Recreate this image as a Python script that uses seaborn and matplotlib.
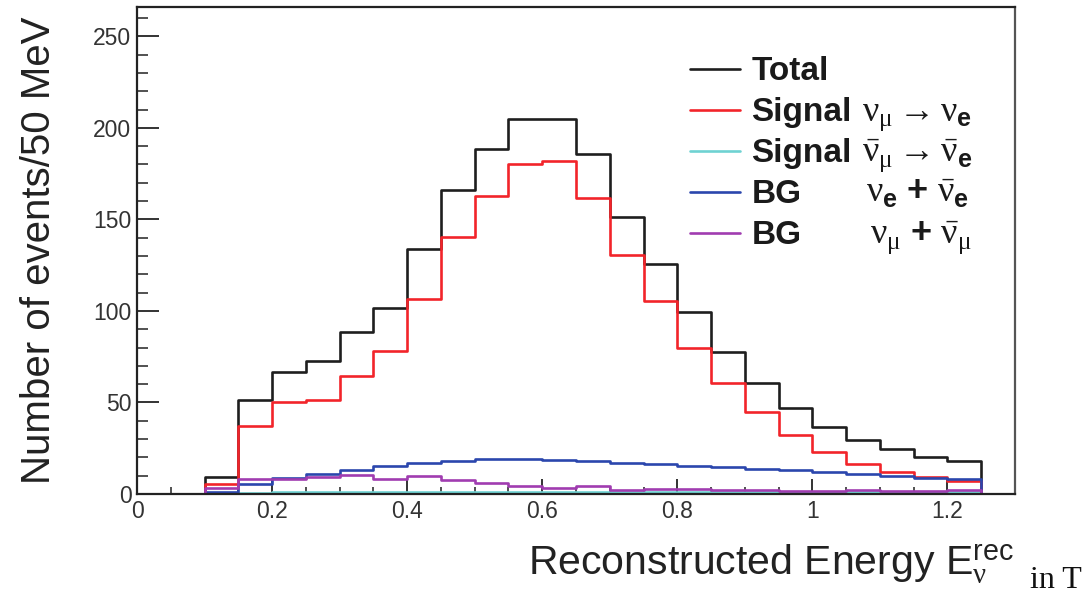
import numpy as np
import pandas as pd
import matplotlib
matplotlib.use("Agg")
import matplotlib.pyplot as plt
import seaborn as sns
from matplotlib.ticker import MultipleLocator, FuncFormatter
from matplotlib.font_manager import FontProperties
from matplotlib.lines import Line2D

# ---- data (events per 50 MeV bin, bins 0.00 .. 1.25) ----
bin_edges = [0.00, 0.05, 0.10, 0.15, 0.20, 0.25, 0.30, 0.35, 0.40, 0.45, 0.50,
             0.55, 0.60, 0.65, 0.70, 0.75, 0.80, 0.85, 0.90, 0.95, 1.00,
             1.05, 1.10, 1.15, 1.20, 1.25]
total = [0, 0, 9.5, 51.4, 66.4, 72.8, 88.4, 101.7, 134.0, 166.3, 188.7,
         205.0, 205.0, 185.8, 151.4, 125.8, 99.4, 77.3, 60.9, 46.9, 36.5,
         29.5, 24.6, 20.2, 18.1]
signal_numu_nue = [0, 0, 5.4, 37.2, 50.0, 51.4, 64.2, 77.9, 106.7, 140.4, 163.0,
                   180.5, 182.0, 161.8, 130.7, 105.6, 80.0, 60.5, 45.0, 32.0, 22.8,
                   16.5, 12.2, 9.5, 7.2]
signal_anti = [0, 0, 0, 0.8, 0.9, 1.0, 1.1, 1.2, 1.2, 1.3, 1.3,
               1.3, 1.3, 1.3, 1.3, 1.2, 1.2, 1.2, 1.1, 1.1, 1.0,
               1.0, 1.0, 0.9, 0.9]
bg_nue = [0, 0, 1.3, 5.3, 8.6, 10.8, 13.1, 15.3, 16.8, 18.2, 19.0,
          19.0, 18.8, 18.2, 17.1, 16.2, 15.3, 14.6, 13.7, 12.9, 11.9,
          10.8, 9.8, 8.9, 8.4]
bg_numu = [0, 0, 3.1, 8.0, 8.0, 9.1, 10.4, 8.0, 9.6, 7.7, 5.8,
           4.6, 3.1, 4.6, 2.2, 2.8, 3.0, 2.0, 2.3, 1.8, 1.8,
           2.0, 1.8, 1.6, 2.0]

legend_words = ["Total", "Signal", "Signal", "BG", "BG"]
legend_formulas = [
    "",
    r"$\nu_{\mu} \rightarrow \nu_{\mathbf{e}}$",
    r"$\bar{\nu}_{\mu} \rightarrow \bar{\nu}_{\mathbf{e}}$",
    r"$\nu_{\mathbf{e}}\ \mathbf{+}\ \bar{\nu}_{\mathbf{e}}$",
    r"$\nu_{\mu}\ \mathbf{+}\ \bar{\nu}_{\mu}$",
]
colors = ["#1e1e1e", "#f2242a", "#6fd2d2", "#2b46ad", "#a03cb0"]
series = [total, signal_numu_nue, signal_anti, bg_nue, bg_numu]

# ---- style ----
sns.set_theme(style="ticks")
plt.rcParams.update({
    "font.family": ["Liberation Sans", "DejaVu Sans"],
    "mathtext.fontset": "custom",
    "mathtext.rm": "Liberation Serif",
    "mathtext.it": "Liberation Serif",
    "mathtext.bf": "Liberation Sans:bold",
    "mathtext.sf": "Liberation Sans",
    "axes.edgecolor": "#222222",
    "text.color": "#222222",
})

centers = [(a + b) / 2 for a, b in zip(bin_edges[:-1], bin_edges[1:])]

fig = plt.figure(figsize=(10.83, 5.93), dpi=100)
ax = fig.add_axes([137 / 1083, 1 - 494 / 593, (1015 - 137) / 1083, (494 - 7) / 593])

LW = 1.9
for vals, col in zip(series, colors):
    df = pd.DataFrame({"E": centers, "n": vals})
    sns.histplot(data=df, x="E", weights="n", bins=list(bin_edges), element="step",
                 fill=True, color=col, facecolor="none", edgecolor=col,
                 linewidth=LW, ax=ax)

ax.set_xlim(0, 1.3)
ax.set_ylim(0, 266)

ax.xaxis.set_major_locator(MultipleLocator(0.2))
ax.xaxis.set_minor_locator(MultipleLocator(0.05))
ax.yaxis.set_major_locator(MultipleLocator(50))
ax.yaxis.set_minor_locator(MultipleLocator(10))
ax.xaxis.set_major_formatter(FuncFormatter(lambda v, p: f"{v:g}"))
ax.yaxis.set_major_formatter(FuncFormatter(lambda v, p: f"{v:g}"))

ax.tick_params(axis="both", which="both", direction="in", top=False, right=False,
               color="#333333", labelcolor="#333333", labelsize=16.5)
ax.tick_params(axis="x", which="major", length=11, width=1.4, pad=4)
ax.tick_params(axis="x", which="minor", length=5, width=1.2)
ax.tick_params(axis="y", which="major", length=16, width=1.4, pad=4)
ax.tick_params(axis="y", which="minor", length=8, width=1.2)

for side in ["left", "bottom", "top"]:
    ax.spines[side].set_linewidth(1.6)
ax.spines["right"].set_linewidth(1.6)
ax.spines["right"].set_color("#555555")

ax.set_ylabel("Number of events/50 MeV", fontsize=29, color="#222222")
ax.yaxis.set_label_coords(-0.09, 0.5)
ax.set_xlabel(r"Reconstructed Energy $\mathsf{E}_{\nu}^{\mathsf{rec}}$", fontsize=29.5,
              color="#222222", ha="right")
ax.xaxis.set_label_coords(0.999, -0.1)
fig.text(1030 / 1083, 1 - 588 / 593, "in T", family="Liberation Serif",
         fontsize=23, va="baseline", ha="left", color="#111111")

leg_font = FontProperties(family="Liberation Sans", weight="bold", size=24)
handles = [Line2D([], [], color=c, lw=LW) for c in colors]
leg = ax.legend(handles, legend_words, loc="upper left", bbox_to_anchor=(0.6295, 0.899),
                frameon=False, prop=leg_font, handlelength=1.5, handletextpad=0.35,
                labelspacing=0.3, borderpad=0, borderaxespad=0)
for t in leg.get_texts():
    t.set_color("#1a1a1a")

fig.canvas.draw()
renderer = fig.canvas.get_renderer()
_, _, lp_desc = renderer.get_text_width_height_descent("lp", leg_font, ismath=False)
texts = leg.get_texts()
x_formula = texts[1].get_window_extent(renderer).x1 + 10
extra_dx = [0, 0, 0, 4, 8]
for t, formula, dx in zip(texts, legend_formulas, extra_dx):
    if not formula:
        continue
    bb = t.get_window_extent(renderer)
    base = bb.y0 + lp_desc
    fx, fy = fig.transFigure.inverted().transform((x_formula + dx, base))
    fig.text(fx, fy, formula, fontsize=26, va="baseline", ha="left", color="#1a1a1a")

fig.savefig("out.png", dpi=100)
